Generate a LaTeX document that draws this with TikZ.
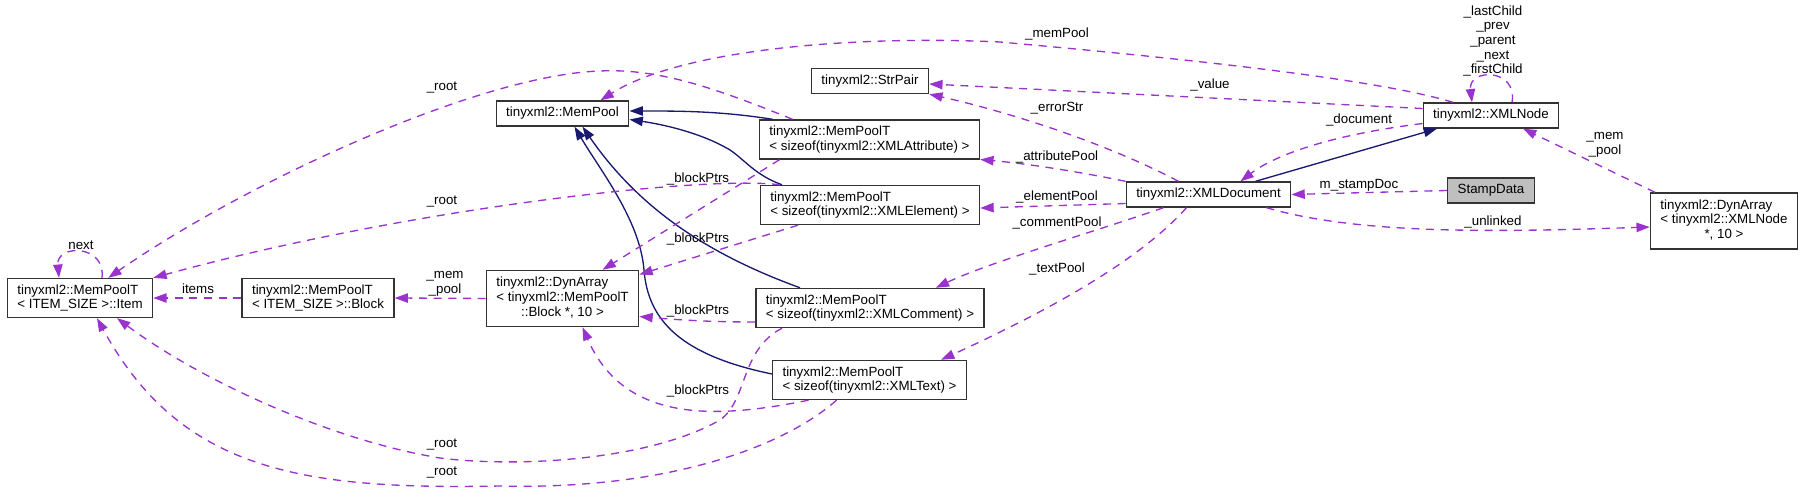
\documentclass[tikz,border=0pt]{standalone}
\usepackage{fontspec}
\setmainfont{Liberation Sans}
\usetikzlibrary{arrows.meta,calc}
\definecolor{refColor}{RGB}{154,50,205}
\definecolor{inhColor}{RGB}{25,25,112}
\definecolor{stampColor}{RGB}{191,191,191}

\begin{document}
\begin{tikzpicture}[x=0.75pt, y=-0.75pt,
    cls/.style={draw=black!80, line width=1pt, fill=white, font=\fontsize{10}{11}\selectfont, inner xsep=7.5pt, inner ysep=4.5pt, minimum height=18.75pt, align=left},
    ref/.style={-{Triangle[length=10pt,width=7pt]}, refColor, line width=1pt, dash pattern=on 6pt off 5pt},
    inh/.style={-{Triangle[length=10pt,width=7pt]}, inhColor, line width=1pt},
    lbl/.style={font=\fontsize{10}{11}\selectfont, inner sep=0pt, align=center}
]
    \useasboundingbox (0,0) rectangle (1804,495);

    % classes
    \node[cls] (item) at (80,298) {tinyxml2::MemPoolT\\< ITEM\_SIZE >::Item};
    \node[cls] (block) at (318,298) {tinyxml2::MemPoolT\\< ITEM\_SIZE >::Block};
    \node[cls] (dynblock) at (562.5,298.5) {\begin{tabular}{@{}l@{}}tinyxml2::DynArray\\< tinyxml2::MemPoolT\\\multicolumn{1}{@{}c@{}}{::Block *, 10 >}\end{tabular}};
    \node[cls] (mempool) at (562.5,113.5) {tinyxml2::MemPool};
    \node[cls] (strpair) at (870,81) {tinyxml2::StrPair};
    \node[cls] (attrpool) at (869.5,139.5) {tinyxml2::MemPoolT\\< sizeof(tinyxml2::XMLAttribute) >};
    \node[cls] (elempool) at (870,205) {tinyxml2::MemPoolT\\< sizeof(tinyxml2::XMLElement) >};
    \node[cls] (commpool) at (870,308) {tinyxml2::MemPoolT\\< sizeof(tinyxml2::XMLComment) >};
    \node[cls] (textpool) at (869.5,380) {tinyxml2::MemPoolT\\< sizeof(tinyxml2::XMLText) >};
    \node[cls] (xmldoc) at (1208.5,194.5) {tinyxml2::XMLDocument};
    \node[cls] (xmlnode) at (1491,115.5) {tinyxml2::XMLNode};
    \node[cls, fill=stampColor] (stamp) at (1491,190.5) {StampData};
    \node[cls] (dynnode) at (1724,221) {\begin{tabular}{@{}l@{}}tinyxml2::DynArray\\< tinyxml2::XMLNode\\\multicolumn{1}{@{}c@{}}{*, 10 >}\end{tabular}};

    % inheritance
    \draw[inh] ($(attrpool.north)+(-97,0)$) .. controls (720,111) and (680,111) .. ($(mempool.east)+(0,-2.5)$);
    \draw[inh] ($(elempool.north)+(-88,0)$) .. controls (755,175) and (745,160) .. (730,150) .. controls (700,132) and (660,124) .. ($(mempool.east)+(0,6)$);
    \draw[inh] ($(commpool.north)+(-70,0)$) .. controls (710,255) and (640,210) .. ($(mempool.south)+(20,0)$);
    \draw[inh] ($(textpool.west)+(0,-6)$) .. controls (680,355) and (648,320) .. (644,270) .. controls (640,220) and (600,170) .. ($(mempool.south)+(12,0)$);
    \draw[inh] ($(xmldoc.north)+(47,0)$) -- ($(xmlnode.south)+(-54,0)$);

    % usage
    \draw[ref] ($(item.north)+(22,0)$) .. controls (106,244) and (56,244) .. ($(item.north)+(-21,0)$);
    \node[lbl] (lnext) at (81,245) {next};
    \draw[ref] (block.west) -- (item.east);
    \node[lbl] (litems) at (198,288.5) {items};
    \draw[ref] (dynblock.west) -- (block.east);
    \node[lbl] (lmemblock) at (445,283.5) {\_mem\\\_pool};

    \draw[ref] ($(attrpool.south)+(-90,0)$) -- ($(dynblock.north)+(40,0)$);
    \node[lbl] (lptrs1) at (698,179) {\_blockPtrs};
    \draw[ref] ($(elempool.south)+(-72,0)$) -- ($(dynblock.east)+(0,-24)$);
    \node[lbl] (lptrs2) at (698,239) {\_blockPtrs};
    \draw[ref] ($(commpool.west)+(0,14)$) .. controls (710,322) and (680,320) .. ($(dynblock.east)+(0,18)$);
    \node[lbl] (lptrs3) at (698,311) {\_blockPtrs};
    \draw[ref] ($(textpool.south)+(-61,0)$) .. controls (720,418) and (625,425) .. ($(dynblock.south)+(20,0)$);
    \node[lbl] (lptrs4) at (698,391) {\_blockPtrs};

    \draw[ref] ($(attrpool.north)+(-77,0)$) .. controls (720,90) and (660,68) .. (600,71) .. controls (480,75) and (250,180) .. ($(item.north east)+(-45,0)$);
    \node[lbl] (lroot1) at (442,88) {\_root};
    \draw[ref] ($(elempool.north)+(-90,0)$) .. controls (700,175) and (400,210) .. (item.north east);
    \node[lbl] (lroot2) at (442,202) {\_root};
    \draw[ref] ($(commpool.south)+(-88,0)$) .. controls (740,350) and (748,400) .. (720,420) .. controls (650,460) and (520,468) .. (440,458) .. controls (330,440) and (200,380) .. ($(item.south)+(37,0)$);
    \node[lbl] (lroot3) at (442,445) {\_root};
    \draw[ref] ($(textpool.south)+(-33,0)$) .. controls (780,450) and (660,490) .. (500,486) .. controls (300,490) and (180,470) .. ($(item.south)+(17,0)$);
    \node[lbl] (lroot4) at (442,473) {\_root};

    \draw[ref] ($(xmlnode.north)+(-38,0)$) .. controls (1380,80) and (1200,60) .. (1000,42) .. controls (850,35) and (680,50) .. ($(mempool.north)+(38,0)$);
    \node[lbl] (lmempool) at (1057,34) {\_memPool};
    \draw[ref] ($(xmlnode.west)+(0,-7)$) -- ($(strpair.east)+(0,3)$);
    \node[lbl] (lvalue) at (1210,85) {\_value};
    \draw[ref] ($(xmldoc.north)+(-30,0)$) .. controls (1100,140) and (1000,110) .. (strpair.south east);
    \node[lbl] (lerror) at (1057,108) {\_errorStr};
    \draw[ref] (xmldoc.north west) .. controls (1080,172) and (1030,164) .. ($(attrpool.east)+(0,20)$);
    \node[lbl] (lattr) at (1057,157) {\_attributePool};
    \draw[ref] ($(xmldoc.west)+(0,9)$) -- ($(elempool.east)+(0,3)$);
    \node[lbl] (lelem) at (1057,197) {\_elementPool};
    \draw[ref] ($(xmldoc.south)+(-45,0)$) .. controls (1100,230) and (990,262) .. ($(commpool.north east)+(-49,0)$);
    \node[lbl] (lcomm) at (1057,223) {\_commentPool};
    \draw[ref] ($(xmldoc.south)+(-22,0)$) .. controls (1140,260) and (1050,310) .. ($(textpool.north east)+(-26,0)$);
    \node[lbl] (ltext) at (1057,269) {\_textPool};

    \draw[ref] ($(xmlnode.west)+(0,8)$) .. controls (1330,135) and (1275,155) .. ($(xmldoc.north)+(32,0)$);
    \node[lbl] (ldoc) at (1359,120) {\_document};
    \draw[ref] ($(xmlnode.north)+(21,0)$) .. controls (1518,68) and (1468,68) .. ($(xmlnode.north)+(-19,0)$);
    \node[lbl] (llinks) at (1493,41) {\_lastChild\\\_prev\\\_parent\\\_next\\\_firstChild};
    \draw[ref] (stamp.west) -- (xmldoc.east);
    \node[lbl] (lstamp) at (1359,185) {m\_stampDoc};
    \draw[ref] ($(xmldoc.south east)+(-25,0)$) .. controls (1360,235) and (1500,232) .. ($(dynnode.west)+(0,6)$);
    \node[lbl] (lunlinked) at (1493,222) {\_unlinked};
    \draw[ref] ($(dynnode.north)+(-69,0)$) -- ($(xmlnode.south)+(32,0)$);
    \node[lbl] (lmemnode) at (1605,144.5) {\_mem\\\_pool};
\end{tikzpicture}
\end{document}
